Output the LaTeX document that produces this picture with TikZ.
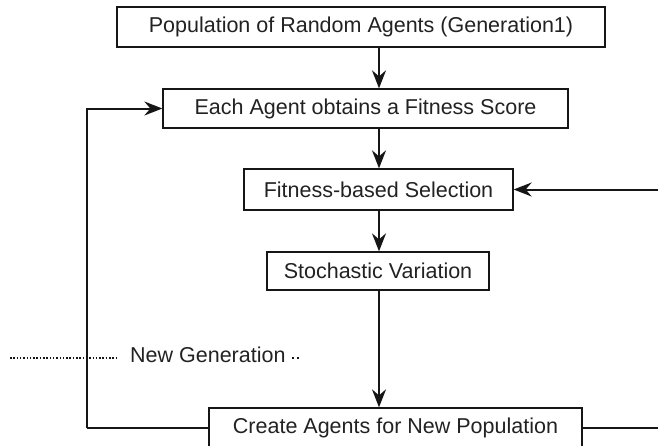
\documentclass[tikz,border=0pt]{standalone}
\usepackage{fontspec}
\setmainfont{Liberation Sans}
\usetikzlibrary{arrows.meta}

\definecolor{ink}{HTML}{161616}
\definecolor{txt}{HTML}{222222}

\tikzset{
  stagebox/.style={draw=ink, line width=1.3pt, fill=white, inner sep=0pt,
    minimum height=40pt, text=txt, font=\fontsize{21.5}{24}\selectfont},
  flow/.style={draw=ink, line width=2pt,
    -{Stealth[length=18pt, width=14pt, inset=6pt]}},
  link/.style={draw=ink, line width=2pt},
  dots/.style={draw=ink, line width=1.7pt, dash pattern=on 1.5pt off 1.8pt},
  lbl/.style={text=txt, font=\fontsize{21.5}{24}\selectfont, inner sep=0pt}
}

\begin{document}
\begin{tikzpicture}[x=1pt, y=-1pt]
  \useasboundingbox (0,0) rectangle (658,445);
  \clip (0,0) rectangle (658,445);

  % process stages
  \node[stagebox, minimum width=488pt, minimum height=40pt] (pop) at (361,27)
    {Population of Random Agents (Generation1)};
  \node[stagebox, minimum width=405pt, minimum height=39pt] (fit) at (365.5,108.5)
    {Each Agent obtains a Fitness Score};
  \node[stagebox, minimum width=269pt, minimum height=41pt] (sel) at (378.5,189.5)
    {Fitness-based Selection};
  \node[stagebox, minimum width=222pt, minimum height=38pt] (var) at (378,271)
    {Stochastic Variation};
  \node[stagebox, minimum width=373pt, minimum height=40pt] (new) at (395.5,428)
    {Create Agents for New Population};

  % main downward flow
  \draw[flow] (pop.south -| 379,0) -- (fit.north -| 379,0);
  \draw[flow] (fit.south -| 379,0) -- (sel.north -| 379,0);
  \draw[flow] (sel.south -| 379,0) -- (var.north -| 379,0);
  \draw[flow] (var.south -| 379,0) -- (new.north -| 379,0);

  % feedback loop to fitness evaluation
  \coordinate (loopB) at (87,428);
  \coordinate (loopT) at (87,108.5);
  \draw[link] (new.west) -- (loopB);
  \draw[flow] (loopB) -- (loopT) -- (fit.west);

  % side inputs on the right
  \coordinate (selIn) at (658,189.5);
  \coordinate (newOut) at (658,428);
  \draw[flow] (selIn) -- (sel.east);
  \draw[link] (new.east) -- (newOut);

  % new generation marker
  \node[lbl, anchor=west] (gen) at (130,355) {New Generation};
  \coordinate (dA) at (10,358);
  \coordinate (dB) at (116,358);
  \coordinate (dC) at (292,358);
  \coordinate (dD) at (300,358);
  \draw[dots] (dA) -- (dB);
  \draw[dots, dash pattern=on 1.6pt off 3.4pt] (dC) -- (dD);
\end{tikzpicture}
\end{document}
